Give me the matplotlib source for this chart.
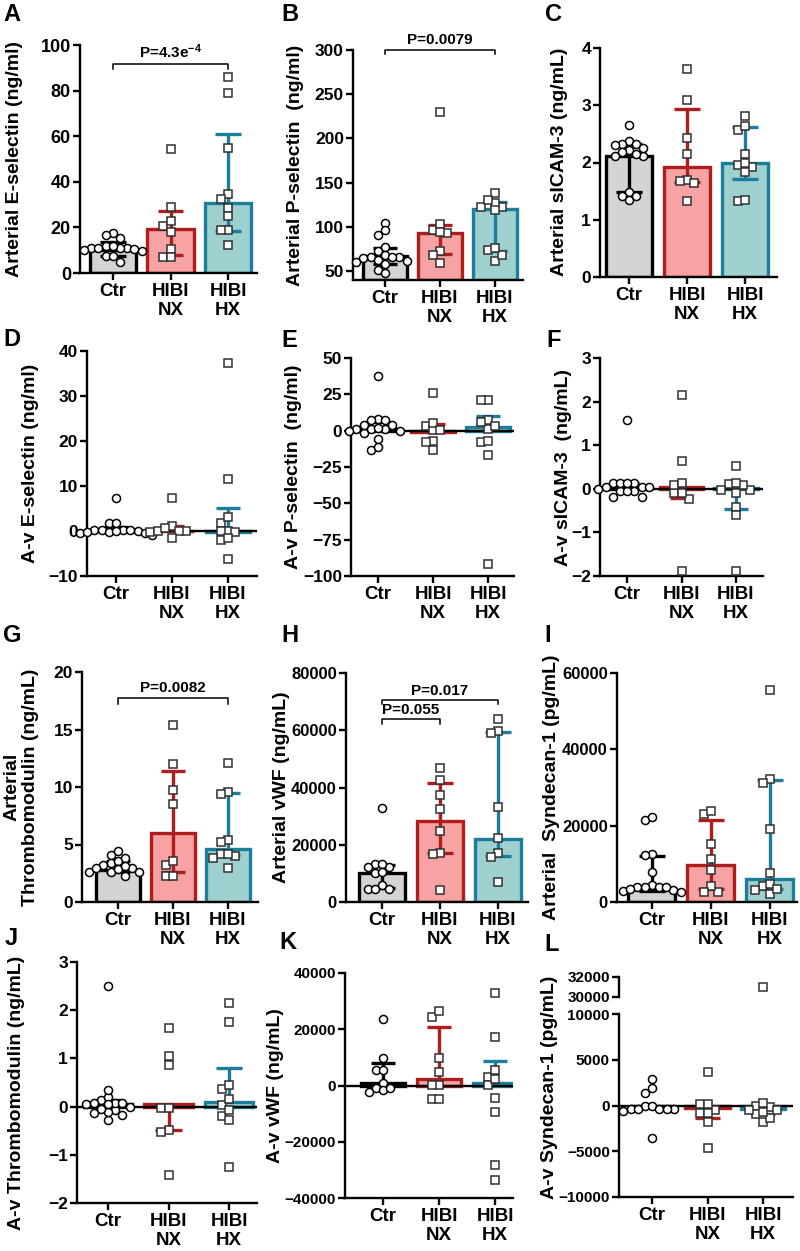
import numpy as np
import matplotlib
matplotlib.use('Agg')
import matplotlib.pyplot as plt

plt.rcParams['font.family'] = ['Liberation Sans', 'DejaVu Sans']
plt.rcParams['font.weight'] = 'bold'
plt.rcParams['mathtext.fontset'] = 'custom'
plt.rcParams['mathtext.rm'] = 'Liberation Sans:bold'
plt.rcParams['mathtext.default'] = 'rm'

# -------------------- data --------------------
GROUPS = ['Ctr', 'HIBI\nNX', 'HIBI\nHX']

# A  Arterial E-selectin
a_ctr = [11, 11.7, 17.5, 11, 7.3, 4.8, 15.3, 10, 16.8, 11, 7.3, 11, 11.7, 9.5, 10.5]
a_nx = [54.3, 28.8, 20.7, 22.6, 18, 10.5, 6.9, 6.9]
a_hx = [85.8, 79.1, 55, 34.7, 32.6, 28.5, 25.1, 19, 18.7, 12.4]
a_med = [10, 19.3, 30.5]
a_lo = [7.5, 7.7, 18.5]
a_hi = [13.8, 27.4, 61]

# B  Arterial P-selectin
b_ctr = [104.9, 96, 90.5, 77, 72.5, 68, 66, 66, 66, 65, 63, 62, 60, 58, 51, 48]
b_nx = [96, 93.6, 72.7, 68.2, 58.7, 103.8, 94.7, 230]
b_hx = [138.3, 123, 123, 127.6, 119, 130.7, 73.5, 61.4, 68.2, 75.8]
b_med = [67, 93, 120]
b_lo = [58.5, 69, 72.7]
b_hi = [76.5, 102, 128.5]

# C  Arterial sICAM-3
c_ctr = [2.37, 2.21, 1.48, 1.35, 2.33, 2.18, 2.65, 2.33, 2.11, 1.42, 2.25, 2.11, 1.42, 2.3, 2.15]
c_nx = [1.70, 3.63, 3.10, 2.43, 2.15, 1.64, 1.32, 1.67]
c_hx = [1.92, 1.32, 2.57, 2.81, 2.15, 1.96, 2.64, 1.35, 2.0, 1.83]
c_med = [2.12, 1.93, 1.99]
c_lo = [1.48, 1.66, 1.72]
c_hi = [2.33, 2.93, 2.62]

# D  A-v E-selectin
d_ctr = [1.7, -0.5, 0.2, 0.2, -0.8, 7.4, 0.1, -0.3, -0.4, 0.2, 1.7, 0.2, -0.2, 0.0]
d_nx = [1.1, -0.3, 0.0, 7.4, 0.0, 0.0, 0.6, -1.5]
d_hx = [0.1, 37.3, 11.5, 1.8, -0.3, -1.9, -6.3, 3.2, 0.0, -1.6]
d_med = [0.2, 0.05, -0.3]
d_lo = [0.2, 0.05, -0.3]
d_hi = [0.8, 1.2, 5.2]

# E  A-v P-selectin
e_ctr = [1, 8.2, 4, -1.7, 1, -5.8, -13, 37.8, 4, -10.9, -0.5, 7, 7.5, -0.5, 1.3, 2]
e_nx = [2.9, -7.4, 25.9, 0.2, -13.2, -8.0, 5.2, 0.6]
e_hx = [7, 1.1, 20.8, -8.1, 5.7, 20.8, -7.4, -17, -91.8, 3.4]
e_med = [1, -1.2, 2.2]
e_lo = [1, -1.2, 2.2]
e_hi = [6.3, 4.5, 10.2]

# F  A-v sICAM-3
f_ctr = [0.13, -0.04, 0.05, 0.0, -0.18, 0.13, 1.58, -0.04, -0.18, 0.14, -0.04, 0.04, 0.04, 0.14]
f_nx = [-0.1, 2.14, 0.64, 0.09, -0.24, -1.88, 0.13, -0.1]
f_hx = [0.11, -0.02, 0.53, -0.41, -0.6, -1.88, 0.09, -0.1, 0.14, -0.02]
f_med = [0.03, 0.05, 0.02]
f_lo = [0.03, -0.22, -0.46]
f_hi = [0.13, 0.05, 0.02]

# G  Arterial thrombomodulin
g_ctr = [3.2, 2.6, 4.06, 3.0, 2.6, 3.4, 3.6, 3.0, 4.4, 2.3, 3.8, 2.9, 2.6, 3.1]
g_nx = [3.2, 2.3, 15.4, 12, 9.7, 8.55, 3.6, 2.3]
g_hx = [4.2, 9.6, 5.4, 4.0, 12.1, 3.0, 9.4, 5.2, 4.2, 3.8]
g_med = [2.8, 6.0, 4.6]
g_lo = [2.6, 2.6, 4.1]
g_hi = [3.6, 11.4, 9.5]

# H  Arterial vWF
h_ctr = [12260, 4670, 13430, 10280, 5840, 32700, 12260, 13430, 10510, 4670, 4670]
h_nx = [17290, 46950, 42630, 37380, 32350, 24880, 4320, 16940]
h_hx = [59800, 33050, 22190, 17290, 63890, 15700, 58980, 7010]
h_med = [10100, 28200, 22000]
h_lo = [5000, 17000, 16000]
h_hi = [12800, 41500, 59500]

# I  Arterial syndecan-1
i_ctr = [3060, 4370, 3930, 21560, 22260, 3930, 2620, 12660, 7860, 3930, 2790, 3930, 12220, 3500]
i_nx = [2620, 23140, 15280, 11170, 8290, 4190, 23830, 2620]
i_hx = [4190, 2010, 32300, 4800, 55440, 19210, 7680, 31170, 3230, 3490]
i_med = [3500, 9600, 6100]
i_lo = [2800, 3300, 3400]
i_hi = [12050, 21400, 32000]

# J  A-v thrombomodulin
j_ctr = [0.13, -0.08, 0.06, -0.27, 0.07, 0.2, -0.11, 0.07, 0.35, 2.51, 0.0, -0.18, 0.07, -0.13, -0.06, 0.05]
j_nx = [-0.03, -0.48, 1.63, 1.06, 0.87, -1.41, -0.03, -0.53]
j_hx = [0.37, 0.04, -0.2, 2.15, 1.75, -1.25, 0.44, 0.16, -0.08, -0.28]
j_med = [0.05, 0.05, 0.1]
j_lo = [0.05, -0.49, 0.1]
j_hi = [0.13, 0.05, 0.8]

# K  A-v vWF
k_ctr = [1000, -2200, -770, 5530, 9690, 23600, 5530, -1600, -1000]
k_nx = [24320, 180, -4930, 9690, 4930, 26340, 180, -4930]
k_hx = [3150, 180, 32880, 17420, -4580, -9330, -28360, -33470, 5530, 2200]
k_med = [1000, 2440, 1010]
k_lo = [1000, 2440, 1010]
k_hi = [7900, 20750, 8620]

# L  A-v syndecan-1 (broken axis)
l_ctr = [0, -330, 0, 1400, -580, 2880, 1860, -3500, -330, -330, -330, -330]
l_nx = [110, -800, 3690, -510, -1790, -4600, 110, -800]
l_hx = [-146, -73, -876, -1790, -438, -510, -1314, 219, -694]
l_hx_high = [31000]
l_med = [0, -300, -400]
l_lo = [0, -1420, -900]
l_hi = [0, -300, -400]

# -------------------- style --------------------
W, H = 800, 1251
FILL = ['#d4d4d4', '#f8a3a3', '#9fd0d0']
EDGE = ['#000000', '#b01d1d', '#1b7f9b']
LABEL_FS = 14
CAT_FS = 13.5

fig = plt.figure(figsize=(W / 100, H / 100), dpi=100)


def px_axes(left, right, top, bottom):
    return fig.add_axes([left / W, 1 - bottom / H, (right - left) / W, (bottom - top) / H])


def style_axes(ax, xlim, ylim, yticks, tick_fs, show_x=True):
    ax.set_xlim(*xlim)
    ax.set_ylim(*ylim)
    ax.set_yticks(yticks)
    ax.spines['top'].set_visible(False)
    ax.spines['right'].set_visible(False)
    for s in ['left', 'bottom']:
        ax.spines[s].set_linewidth(1.7)
    ax.tick_params(axis='y', width=1.7, length=5, labelsize=tick_fs, pad=1.5)
    ax.tick_params(axis='x', width=1.7, length=5, pad=2)
    if show_x:
        ax.set_xticks([0, 1, 2])
        ax.set_xticklabels(GROUPS, fontsize=CAT_FS, fontweight='bold')
    for lab in ax.get_yticklabels():
        lab.set_fontweight('bold')


def swarm_x(ax, xc, vals, step=7.2):
    tr = ax.transData
    sx = tr.transform((1, 0))[0] - tr.transform((0, 0))[0]
    ys = [tr.transform((0, v))[1] for v in vals]
    placed = []
    xs = [0.0] * len(vals)
    for i in np.argsort(vals)[::-1]:
        k = 0
        for cand in [0, -1, 1, -2, 2, -3, 3, -4, 4, -5, 5, -6, 6]:
            if all(c != cand or abs(y - ys[i]) >= step for c, y in placed):
                k = cand
                break
        placed.append((k, ys[i]))
        xs[i] = xc + k * step / sx
    return xs


def draw_groups(ax, groups, med, lo, hi, base=0.0, zero_line=False):
    for i in range(3):
        ax.bar(i, med[i] - base, bottom=base, width=0.8, color=FILL[i],
               edgecolor=EDGE[i], linewidth=2.4, zorder=2)
    if zero_line:
        ax.axhline(0, color='black', lw=1.7, zorder=2.5)
    cap = 0.22
    for i in range(3):
        for end in (lo[i], hi[i]):
            if end != med[i]:
                ax.plot([i, i], [med[i], end], color=EDGE[i], lw=2.4, zorder=3,
                        solid_capstyle='butt')
                ax.plot([i - cap, i + cap], [end, end], color=EDGE[i], lw=2.4,
                        zorder=3, solid_capstyle='butt')
    for i, vals in enumerate(groups):
        xs = swarm_x(ax, i, vals)
        if i == 0:
            ax.plot(xs, vals, 'o', ms=5.8, mfc='white', mec='black', mew=1.1,
                    zorder=4, clip_on=False)
        else:
            ax.plot(xs, vals, 's', ms=5.4, mfc='white', mec='#303030', mew=1.1,
                    zorder=4, clip_on=False)


def bracket(ax, x1, x2, y, drop, text, ty):
    ax.plot([x1, x1, x2, x2], [y - drop, y, y, y - drop], color='black', lw=1.1,
            clip_on=False, zorder=5)
    ax.text((x1 + x2) / 2, ty, text, ha='center', va='bottom', fontsize=11,
            fontweight='bold', clip_on=False)


def ylabel(x_px, y_px, text):
    fig.text(x_px / W, 1 - y_px / H, text, rotation=90, ha='center', va='center',
             fontsize=LABEL_FS, fontweight='bold', linespacing=1.1)


def letter(x_px, y_px, text):
    fig.text(x_px / W, 1 - y_px / H, text, ha='left', va='top', fontsize=17,
             fontweight='bold')


# (panel, groups, med, lo, hi, ylim, yticks, axes px box, xlim, label x, label y, label text, A-v?, tick size)
panels = [
    ('A', [a_ctr, a_nx, a_hx], a_med, a_lo, a_hi, (0, 100), np.arange(0, 101, 20),
     (80, 257, 45, 273), (-0.57, 2.5), 15, 159, 'Arterial E-selectin (ng/ml)', False, 13),
    ('B', [b_ctr, b_nx, b_hx], b_med, b_lo, b_hi, (40, 300), np.arange(50, 301, 50),
     (353, 523, 50, 280), (-0.58, 2.51), 296, 165, 'Arterial P-selectin  (ng/ml)', False, 12.5),
    ('C', [c_ctr, c_nx, c_hx], c_med, c_lo, c_hi, (0, 4), np.arange(0, 5, 1),
     (600, 777, 48, 277), (-0.5, 2.55), 559, 162, 'Arterial sICAM-3 (ng/mL)', False, 12.5),
    ('D', [d_ctr, d_nx, d_hx], d_med, d_lo, d_hi, (-10, 40), np.arange(-10, 41, 10),
     (87, 257, 351, 576), (-0.52, 2.52), 31, 463, 'A-v E-selectin (ng/ml)', True, 12.5),
    ('E', [e_ctr, e_nx, e_hx], e_med, e_lo, e_hi, (-100, 50), np.arange(-100, 51, 25),
     (351, 514, 358, 576), (-0.49, 2.47), 293, 467, 'A-v P-selectin  (ng/ml)', True, 12.5),
    ('F', [f_ctr, f_nx, f_hx], f_med, f_lo, f_hi, (-2, 3), np.arange(-2, 4, 1),
     (600, 763, 358, 576), (-0.5, 2.5), 563, 467, 'A-v sICAM-3  (ng/mL)', True, 12.5),
    ('G', [g_ctr, g_nx, g_hx], g_med, g_lo, g_hi, (0, 20), np.arange(0, 21, 5),
     (82, 258, 672, 902), (-0.65, 2.55), 21, 787, 'Arterial\nThrombomodulin (ng/mL)', False, 12.5),
    ('H', [h_ctr, h_nx, h_hx], h_med, h_lo, h_hi, (0, 80000), np.arange(0, 80001, 20000),
     (346, 528, 673, 902), (-0.62, 2.52), 282, 787, 'Arterial vWF (ng/mL)', False, 12),
    ('I', [i_ctr, i_nx, i_hx], i_med, i_lo, i_hi, (0, 60000), np.arange(0, 60001, 20000),
     (617, 797, 673, 902), (-0.59, 2.46), 552, 787, 'Arterial  Syndecan-1 (pg/mL)', False, 12),
    ('J', [j_ctr, j_nx, j_hx], j_med, j_lo, j_hi, (-2, 3), np.arange(-2, 4, 1),
     (77, 257, 962, 1203), (-0.51, 2.46), 17, 1093, 'A-v Thrombomodulin (ng/mL)', True, 12.5),
    ('K', [k_ctr, k_nx, k_hx], k_med, k_lo, k_hi, (-40000, 40000), np.arange(-40000, 40001, 20000),
     (345, 513, 973, 1198), (-0.68, 2.32), 276, 1086, 'A-v vWF (ng/mL)', True, 11),
    ('L', [l_ctr, l_nx, l_hx], l_med, l_lo, l_hi, (-10000, 10000), np.arange(-10000, 10001, 5000),
     (619, 793, 1014, 1197), (-0.6, 2.54), 549, 1087, 'A-v Syndecan-1 (pg/mL)', True, 11),
]

axes = {}
for key, groups, med, lo, hi, ylim, yticks, box, xlim, lx, ly, ltxt, av, tfs in panels:
    ax = px_axes(*box)
    style_axes(ax, xlim, ylim, yticks, tfs)
    draw_groups(ax, groups, med, lo, hi, base=ylim[0] if not av else 0.0, zero_line=av)
    ylabel(lx, ly, ltxt)
    axes[key] = ax

# broken upper piece of panel L
ax_up = px_axes(619, 793, 977, 997)
ax_up.set_xlim(-0.6, 2.54)
ax_up.set_ylim(30000, 32000)
ax_up.set_yticks([30000, 32000])
for s in ['top', 'right', 'bottom']:
    ax_up.spines[s].set_visible(False)
ax_up.spines['left'].set_linewidth(1.7)
ax_up.set_xticks([])
ax_up.tick_params(axis='y', width=1.7, length=5, labelsize=11, pad=1.5)
ax_up.patch.set_alpha(0)
ax_up.plot([2], l_hx_high, 's', ms=5.4, mfc='white', mec='#303030', mew=1.1, zorder=4)

# significance brackets
bracket(axes['A'], 0, 2, 91.5, 2, r'P=4.3e$^{-4}$', 93)
bracket(axes['B'], 0, 2, 300, 5, 'P=0.0079', 303)
bracket(axes['G'], 0, 2, 17.7, 0.45, 'P=0.0082', 18.0)
bracket(axes['H'], 0, 1, 63900, 1600, 'P=0.055', 64700)
bracket(axes['H'], 0, 2, 70700, 1400, 'P=0.017', 71400)

# panel letters
for txt, x, y in [('A', 3, 3), ('B', 281, 3), ('C', 545, 3),
                  ('D', 3, 328), ('E', 281, 329), ('F', 546, 329),
                  ('G', 3, 624), ('H', 281, 624), ('I', 544, 624),
                  ('J', 5, 927), ('K', 279, 931), ('L', 544, 933)]:
    letter(x, y, txt)

fig.savefig('out.png', dpi=100)
